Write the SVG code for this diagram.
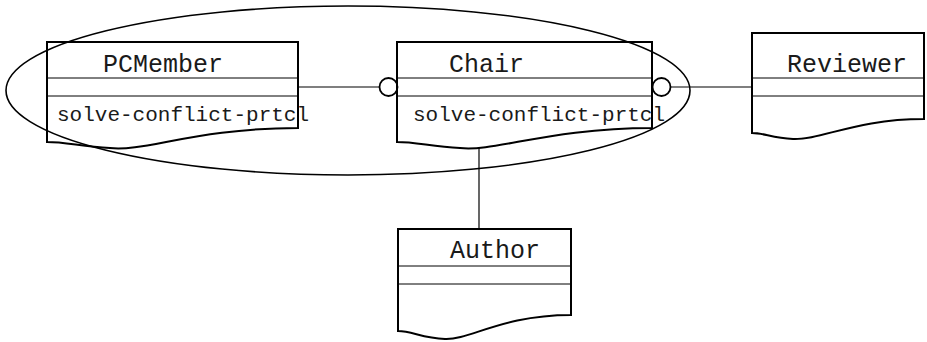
<svg xmlns="http://www.w3.org/2000/svg" width="927" height="342" viewBox="0 0 927 342">
<style>
.box{fill:none;stroke:#000;stroke-width:2}
.row{stroke:#000;stroke-width:1}
.ln{stroke:#000;stroke-width:1.2;fill:none}
.ball{fill:#fff;stroke:#000;stroke-width:1.8}
.name{font-family:"Liberation Mono","DejaVu Sans Mono",monospace;font-size:25px;fill:#1a1a1a}
.op{font-family:"Liberation Mono","DejaVu Sans Mono",monospace;font-size:21px;fill:#1a1a1a}
.grp{fill:none;stroke:#000;stroke-width:1.6}
</style>
<rect width="927" height="342" fill="#fff"/>
<g id="connectors">
<line class="ln" x1="298" y1="87" x2="379.5" y2="87"/>
<circle class="ball" cx="388.5" cy="87" r="9"/>
<circle class="ball" cx="661.5" cy="87" r="9"/>
<line class="ln" x1="670.5" y1="87" x2="752" y2="87"/>
<line class="ln" x1="479" y1="148" x2="479" y2="229"/>
</g>
<g id="PCMember">
<path class="box" d="M47,142 V42 H298 V128 C196,128 145,152 110,148 C80,146 65,142 47,142 Z"/>
<line class="row" x1="47" y1="78" x2="298" y2="78"/>
<line class="row" x1="47" y1="96" x2="298" y2="96"/>
<text class="name" x="103" y="72">PCMember</text>
<text class="op" x="57" y="121">solve-conflict-prtcl</text>
</g>
<g id="Chair">
<path class="box" d="M397,142 V42 H652 V128 C550,128 495,152 460,148 C430,146 415,142 397,142 Z"/>
<line class="row" x1="397" y1="78" x2="652" y2="78"/>
<line class="row" x1="397" y1="96" x2="652" y2="96"/>
<text class="name" x="449" y="72">Chair</text>
<text class="op" x="413" y="121">solve-conflict-prtcl</text>
</g>
<g id="Reviewer">
<path class="box" d="M752,133 V33 H924 V119 C855,119 822,140 793,139 C772,138 764,133 752,133 Z"/>
<line class="row" x1="752" y1="78" x2="924" y2="78"/>
<line class="row" x1="752" y1="96" x2="924" y2="96"/>
<text class="name" x="787" y="72">Reviewer</text>
</g>
<g id="Author">
<path class="box" d="M398,331 V229 H571 V315 C502,315 470,340 445,339 C422,338 412,331 398,331 Z"/>
<line class="row" x1="398" y1="266" x2="571" y2="266"/>
<line class="row" x1="398" y1="284" x2="571" y2="284"/>
<text class="name" x="450" y="258">Author</text>
</g>
<g id="group">
<ellipse class="grp" cx="348" cy="90.5" rx="342" ry="84.5"/>
</g>
</svg>
